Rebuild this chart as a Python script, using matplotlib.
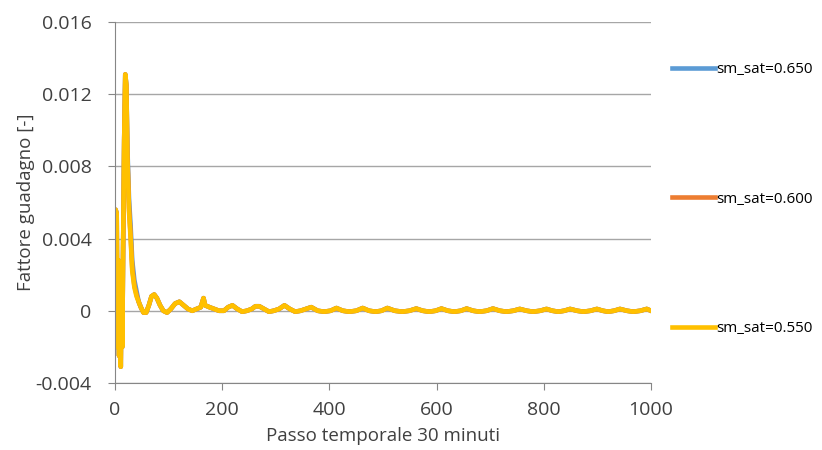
import matplotlib
matplotlib.use("Agg")
import matplotlib.pyplot as plt
import numpy as np

plt.rcParams['font.family'] = ['Open Sans', 'DejaVu Sans']

# time step (30 min) and gain factor
passo = [0, 1, 3, 4.5, 6, 7.5, 9, 10.6, 12, 13.5, 15, 17, 19, 21, 23, 26, 29, 32, 36, 40,
         44, 48, 53, 58, 63, 68, 73, 78, 84, 90, 97, 104, 112, 120, 128, 136, 144, 152, 160, 165,
         168, 176, 185, 194, 203, 211, 219, 228, 237, 246, 255, 262, 269, 278, 287, 296, 306, 316, 326, 336,
         346, 356, 366, 378, 390, 402, 413, 425, 437, 450, 462, 474, 486, 497, 508, 522, 536, 549, 562, 574,
         586, 598, 609, 621, 633, 645, 656, 668, 680, 693, 705, 718, 730, 743, 755, 768, 780, 793, 805, 816,
         827, 838, 849, 862, 874, 887, 899, 910, 920, 931, 942, 955, 967, 980, 992, 1000]

y_055 = [-0.0020, 0.0056, 0.0054, -0.0018, 0.0028, -0.0025, 0.0022, -0.0031, 0.0012, -0.0020,
         0.0035, 0.0095, 0.0131, 0.0125, 0.0085, 0.0055, 0.0040, 0.0022, 0.0013, 0.0008,
         0.0005, 0.0002, -0.0001, -0.0001, 0.0003, 0.0008, 0.0009, 0.0007, 0.0003, 0.0000,
         -0.0001, 0.0001, 0.0004, 0.0005, 0.0003, 0.0001, 0.0000, 0.0001, 0.0002, 0.0007,
         0.0003, 0.0002, 0.0001, 0.0000, 0.0000, 0.0002, 0.0003, 0.0001, -0.00005, 0.0000,
         0.0001, 0.00025, 0.00025, 0.0001, -0.00005, 0.0000, 0.0001, 0.0003, 0.0001, -0.00005,
         0.0000, 0.0001, 0.0002, 0.0000, -0.00005, 0.0000, 0.00015, 0.0000, -0.00005, 0.0000,
         0.00015, 0.0000, -0.00005, 0.0000, 0.00015, 0.0000, -0.00005, 0.0000, 0.00012, 0.0000,
         -0.00005, 0.0000, 0.00012, 0.0000, -0.00005, 0.0000, 0.00012, 0.0000, -0.00005, 0.0000,
         0.00012, 0.0000, -0.00005, 0.0000, 0.0001, 0.0000, -0.00005, 0.0000, 0.0001, 0.0000,
         -0.00005, 0.0000, 0.0001, 0.0000, -0.00005, 0.0000, 0.0001, 0.0000, -0.00005, 0.0000,
         0.0001, 0.0000, -0.00005, 0.0000, 0.0001, 0.0000]

# the other two curves lie under the yellow one, apart from the decay after the peak
y_060 = list(y_055)
y_060[14:20] = [0.0087, 0.0057, 0.0042, 0.0024, 0.0014, 0.0009]
y_065 = list(y_055)
y_065[14:20] = [0.0090, 0.0062, 0.0047, 0.0028, 0.0017, 0.0011]

labels = ['sm_sat=0.650', 'sm_sat=0.600', 'sm_sat=0.550']
colors = ['#5B9BD5', '#ED7D31', '#FFC000']

fig = plt.figure(figsize=(8.22, 4.5), dpi=100)
ax = fig.add_axes([0.140, 0.149, 0.652, 0.802])

for yy, lab, col in zip([y_065, y_060, y_055], labels, colors):
    ax.plot(passo, yy, color=col, linewidth=3.3, label=lab, solid_joinstyle='round')

ax.set_xlim(0, 1000)
ax.set_ylim(-0.004, 0.016)
ax.set_xticks(np.arange(0, 1001, 200))
ax.set_yticks([-0.004, 0, 0.004, 0.008, 0.012, 0.016])
ax.set_yticklabels(['-0.004', '0', '0.004', '0.008', '0.012', '0.016'])

ax.grid(axis='y', color='#A6A6A6', linewidth=1)
ax.set_axisbelow(True)
for s in ['top', 'right']:
    ax.spines[s].set_visible(False)
for s in ['left', 'bottom']:
    ax.spines[s].set_color('#868686')
ax.tick_params(axis='both', colors='#868686', labelcolor='#404040', labelsize=14, length=5)
ax.tick_params(axis='y', pad=12)
ax.tick_params(axis='x', pad=8)

ax.set_xlabel('Passo temporale 30 minuti', fontsize=13.5, color='#404040', labelpad=6)
ax.set_ylabel('Fattore guadagno [-]', fontsize=13.5, color='#404040', labelpad=0)

ax.legend(loc='upper left', bbox_to_anchor=(0.818, 0.862), bbox_transform=fig.transFigure,
          frameon=False, fontsize=11, labelspacing=7.5, handlelength=2.8,
          handletextpad=0.1, borderpad=0, borderaxespad=0)

fig.savefig('out.png', dpi=100)
